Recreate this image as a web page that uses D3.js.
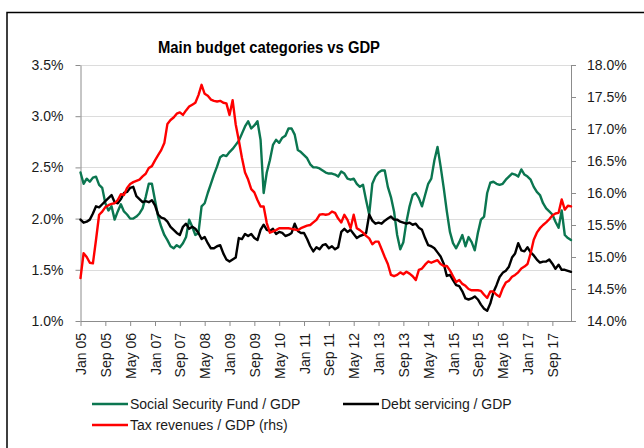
<!DOCTYPE html>
<html>
<head>
<meta charset="utf-8">
<script src="https://cdn.jsdelivr.net/npm/d3@7/dist/d3.min.js"></script>
<style>
  html, body { margin: 0; padding: 0; background: #fff; }
  svg { display: block; font-family: "Liberation Sans", Arial, sans-serif; }
</style>
</head>
<body>
<script>
// Monthly ratios to GDP, Jan 2005 - Mar 2018 (%)
const socialSecurity = [
  2.45, 2.34, 2.39, 2.36, 2.40, 2.41, 2.33, 2.30, 2.15, 2.08, 2.12, 1.99,
  2.07, 2.14, 2.07, 2.04, 2.00, 2.00, 2.02, 2.05, 2.10, 2.21, 2.34, 2.34,
  2.18, 2.02, 1.92, 1.84, 1.79, 1.73, 1.71, 1.74, 1.72, 1.76, 1.82, 1.99,
  1.92, 1.84, 1.86, 2.12, 2.15, 2.25, 2.34, 2.43, 2.51, 2.60, 2.62, 2.61,
  2.65, 2.68, 2.72, 2.76, 2.83, 2.90, 2.95, 2.88, 2.91, 2.95, 2.77, 2.25,
  2.45, 2.57, 2.72, 2.77, 2.74, 2.79, 2.81, 2.88, 2.88, 2.82, 2.67, 2.65,
  2.62, 2.59, 2.53, 2.50, 2.50, 2.49, 2.47, 2.45, 2.44, 2.44, 2.43, 2.41,
  2.46, 2.44, 2.39, 2.38, 2.39, 2.34, 2.31, 2.33, 2.18, 2.04, 2.34, 2.41,
  2.45, 2.47, 2.47, 2.31, 2.21, 2.07, 1.84, 1.70, 1.77, 1.97, 2.12, 2.23,
  2.25, 2.20, 2.12, 2.23, 2.34, 2.39, 2.57, 2.70, 2.51, 2.30, 2.07, 1.87,
  1.76, 1.71, 1.77, 1.84, 1.73, 1.82, 1.77, 1.69, 1.86, 1.99, 2.02, 2.25,
  2.35, 2.36, 2.34, 2.33, 2.34, 2.38, 2.41, 2.44, 2.43, 2.41, 2.48, 2.43,
  2.41, 2.38, 2.31, 2.26, 2.23, 2.15, 2.10, 2.07, 2.04, 1.97, 1.91, 2.08,
  1.84, 1.81, 1.79
];

const debtServicing = [
  1.99, 1.96, 1.97, 1.99, 2.05, 2.12, 2.11, 2.14, 2.17, 2.20, 2.23, 2.16,
  2.15, 2.19, 2.25, 2.26, 2.30, 2.31, 2.22, 2.19, 2.16, 2.17, 2.16, 2.18,
  2.13, 2.04, 2.01, 2.00, 1.97, 1.92, 1.89, 1.86, 1.84, 1.92, 1.95, 1.90,
  1.92, 1.90, 1.86, 1.80, 1.82, 1.76, 1.71, 1.71, 1.73, 1.74, 1.66, 1.60,
  1.58, 1.60, 1.62, 1.81, 1.80, 1.85, 1.83, 1.85, 1.81, 1.79, 1.89, 1.94,
  1.89, 1.88, 1.90, 1.85, 1.87, 1.86, 1.83, 1.84, 1.86, 1.95, 1.88, 1.86,
  1.86, 1.80, 1.73, 1.68, 1.72, 1.70, 1.74, 1.75, 1.71, 1.73, 1.70, 1.72,
  1.87, 1.90, 1.87, 1.89, 1.85, 1.81, 1.83, 1.84, 1.86, 2.04, 1.98, 1.95,
  1.96, 1.95, 1.98, 2.00, 2.02, 1.99, 1.99, 1.97, 1.96, 1.95, 1.96, 1.94,
  1.95, 1.91, 1.89, 1.81, 1.74, 1.73, 1.71, 1.67, 1.63, 1.56, 1.44, 1.45,
  1.40, 1.35, 1.34, 1.29, 1.22, 1.21, 1.22, 1.24, 1.21, 1.16, 1.12, 1.10,
  1.17, 1.28, 1.35, 1.43, 1.47, 1.49, 1.53, 1.62, 1.66, 1.76, 1.69, 1.68,
  1.72, 1.67, 1.64, 1.60, 1.57, 1.58, 1.58, 1.60, 1.56, 1.51, 1.55, 1.50,
  1.50, 1.49, 1.48
];

// Right-hand scale
const taxRevenues = [
  14.67, 15.06, 15.00, 14.91, 14.90, 15.27, 15.66, 15.71, 15.78, 15.81, 15.83, 15.84,
  15.89, 15.98, 15.97, 16.08, 16.14, 16.17, 16.19, 16.21, 16.26, 16.30, 16.39, 16.42,
  16.51, 16.59, 16.67, 16.78, 17.08, 17.14, 17.18, 17.24, 17.26, 17.22, 17.29, 17.35,
  17.38, 17.41, 17.53, 17.69, 17.55, 17.52, 17.46, 17.44, 17.43, 17.44, 17.41, 17.40,
  17.22, 17.45, 17.07, 16.82, 16.55, 16.32, 16.21, 16.06, 16.01, 15.89, 15.79, 15.79,
  15.53, 15.38, 15.40, 15.42, 15.45, 15.45, 15.45, 15.45, 15.44, 15.43, 15.42, 15.45,
  15.47, 15.49, 15.50, 15.54, 15.58, 15.66, 15.67, 15.66, 15.67, 15.71, 15.69, 15.60,
  15.54, 15.66, 15.58, 15.45, 15.66, 15.45, 15.42, 15.38, 15.33, 15.29, 15.20, 15.24,
  15.24, 15.12, 15.00, 14.89, 14.72, 14.70, 14.72, 14.76, 14.73, 14.77, 14.74, 14.70,
  14.64, 14.80, 14.82, 14.88, 14.93, 14.91, 14.93, 14.95, 14.89, 14.86, 14.86, 14.79,
  14.70, 14.61, 14.64, 14.58, 14.55, 14.50, 14.48, 14.48, 14.48, 14.47, 14.41, 14.36,
  14.46, 14.46, 14.41, 14.38, 14.51, 14.60, 14.63, 14.69, 14.72, 14.76, 14.82, 14.85,
  14.89, 15.06, 15.27, 15.38, 15.45, 15.50, 15.54, 15.59, 15.65, 15.68, 15.69, 15.90,
  15.74, 15.80, 15.79
];

const tickLabels = [
  "Jan 05", "Sep 05", "May 06", "Jan 07", "Sep 07", "May 08", "Jan 09",
  "Sep 09", "May 10", "Jan 11", "Sep 11", "May 12", "Jan 13", "Sep 13",
  "May 14", "Jan 15", "Sep 15", "May 16", "Jan 17", "Sep 17"
];
const leftTicks = [1.0, 1.5, 2.0, 2.5, 3.0, 3.5];
const rightTicks = [14.0, 14.5, 15.0, 15.5, 16.0, 16.5, 17.0, 17.5, 18.0];

const seriesNames = ["Social Security Fund / GDP", "Debt servicing / GDP", "Tax revenues / GDP (rhs)"];
const seriesColors = ["#0b7650", "#000000", "#ff0000"];

// Month categories
const fmt = d3.timeFormat("%b %y");
const months = d3.timeMonth.range(new Date(2005, 0, 1), new Date(2018, 3, 1)).map(fmt);

const W = 644, H = 448;
const plot = { left: 80.5, right: 571, top: 65, bottom: 321 };

const svg = d3.select("body").append("svg").attr("width", W).attr("height", H);

// frame (top and left edges)
svg.append("path")
  .attr("d", `M7,${H} V12.5 H${W}`)
  .attr("fill", "none").attr("stroke", "#000").attr("stroke-width", 1.5);

const x = d3.scalePoint().domain(months).range([plot.left, plot.right]);
const yL = d3.scaleLinear().domain([1.0, 3.5]).range([plot.bottom, plot.top]);
const yR = d3.scaleLinear().domain([14.0, 18.0]).range([plot.bottom, plot.top]);

// gridlines
svg.append("g").selectAll("line")
  .data(leftTicks.filter(v => v > 1.0))
  .join("line")
  .attr("x1", plot.left).attr("x2", plot.right)
  .attr("y1", d => Math.round(yL(d)) + 0.5).attr("y2", d => Math.round(yL(d)) + 0.5)
  .attr("stroke", "#dcdcdc").attr("stroke-width", 1);

const axisColor = "#8c8c8c";
const labelColor = "#1a1a1a";
const fs = "14px";

// left axis
const gL = svg.append("g").attr("transform", `translate(${plot.left},0)`)
  .call(d3.axisLeft(yL).tickValues(leftTicks).tickFormat(d => d.toFixed(1) + "%").tickSize(5).tickSizeOuter(0).tickPadding(12));
// right axis
const gR = svg.append("g").attr("transform", `translate(${plot.right},0)`)
  .call(d3.axisRight(yR).tickValues(rightTicks).tickFormat(d => d.toFixed(1) + "%").tickSize(5).tickSizeOuter(0).tickPadding(11));
// bottom axis
const gB = svg.append("g").attr("transform", `translate(0,${plot.bottom})`)
  .call(d3.axisBottom(x).tickValues(tickLabels).tickSize(5).tickSizeOuter(0).tickPadding(6));

[gL, gR, gB].forEach(g => {
  g.select(".domain").attr("stroke", axisColor);
  g.selectAll(".tick line").attr("stroke", axisColor);
  g.selectAll("text").attr("fill", labelColor).style("font-size", fs)
    .style("font-family", '"Liberation Sans", Arial, sans-serif');
});

gB.selectAll("text")
  .attr("transform", "rotate(-90)")
  .attr("text-anchor", "end")
  .attr("x", -12).attr("y", 0).attr("dy", "0.36em")
  .attr("dx", 0);

// lines
const lineL = d3.line().x((d, i) => x(months[i])).y(d => yL(d));
const lineR = d3.line().x((d, i) => x(months[i])).y(d => yR(d));

const lines = svg.append("g").attr("fill", "none").attr("stroke-width", 2.4)
  .attr("stroke-linejoin", "round").attr("stroke-linecap", "round");
lines.append("path").attr("d", lineL(socialSecurity)).attr("stroke", seriesColors[0]);
lines.append("path").attr("d", lineL(debtServicing)).attr("stroke", seriesColors[1]);
lines.append("path").attr("d", lineR(taxRevenues)).attr("stroke", seriesColors[2]);

// title, slightly condensed
svg.append("text")
  .attr("x", 269).attr("y", 53)
  .attr("text-anchor", "middle")
  .attr("textLength", 222).attr("lengthAdjust", "spacingAndGlyphs")
  .style("font-size", "16px").style("font-weight", "bold")
  .attr("fill", "#000")
  .text("Main budget categories vs GDP");

// legend
const legendPos = [[92, 404], [343, 404], [92, 425]];
const lg = svg.append("g");
seriesNames.forEach((name, i) => {
  const [lx, ly] = legendPos[i];
  lg.append("line").attr("x1", lx).attr("x2", lx + 36).attr("y1", ly).attr("y2", ly)
    .attr("stroke", seriesColors[i]).attr("stroke-width", 2.4);
  lg.append("text").attr("x", lx + 38).attr("y", ly).attr("dy", "0.36em")
    .style("font-size", fs).attr("fill", labelColor).text(name);
});
</script>
</body>
</html>
